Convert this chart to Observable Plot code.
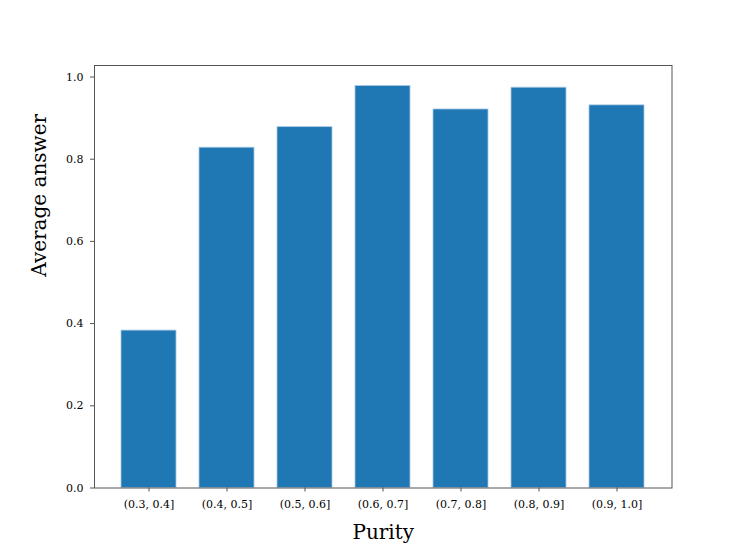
<!DOCTYPE html>
<html>
<head>
<meta charset="utf-8">
<script src="https://cdn.jsdelivr.net/npm/d3@7"></script>
<script src="https://cdn.jsdelivr.net/npm/@observablehq/plot@0.6"></script>
<style>
  html, body { margin: 0; padding: 0; background: #fff; }
</style>
</head>
<body>
<div id="chart"></div>
<script>
const categories = ["(0.3, 0.4]", "(0.4, 0.5]", "(0.5, 0.6]", "(0.6, 0.7]", "(0.7, 0.8]", "(0.8, 0.9]", "(0.9, 1.0]"];
const values = [0.383, 0.828, 0.878, 0.978, 0.921, 0.974, 0.931];
const yTicks = [0, 0.2, 0.4, 0.6, 0.8, 1.0];
const xLabel = "Purity";
const yLabel = "Average answer";

const data = categories.map((c, i) => ({category: c, value: values[i]}));

const chart = Plot.plot({
  width: 747,
  height: 548,
  marginLeft: 94,
  marginRight: 75.5,
  marginTop: 65,
  marginBottom: 60.5,
  style: {fontFamily: "DejaVu Serif", fontSize: "11px", color: "#000", background: "#fff"},
  x: {domain: categories, paddingInner: 0.3, paddingOuter: 0.32, label: null},
  y: {domain: [0, 1.028], label: null},
  marks: [
    Plot.barY(data, {x: "category", y: "value", fill: "#1f77b4", stroke: "#a9c8e3", strokeWidth: 0.8}),
    Plot.frame({stroke: "#555", strokeWidth: 1}),
    Plot.axisY({ticks: yTicks, tickFormat: d => d.toFixed(1), tickSize: 4, tickPadding: 7, stroke: "#555", fill: "#000", label: null}),
    Plot.axisX({tickSize: 4, tickPadding: 8, stroke: "#555", fill: "#000", label: null}),
    Plot.text([yLabel], {text: d => d, frameAnchor: "left", dx: -55, rotate: -90, fontSize: 20, fill: "#000"}),
    Plot.text([xLabel], {text: d => d, frameAnchor: "bottom", lineAnchor: "middle", dy: 45, fontSize: 20, fill: "#000"})
  ]
});
document.getElementById("chart").appendChild(chart);
</script>
</body>
</html>
